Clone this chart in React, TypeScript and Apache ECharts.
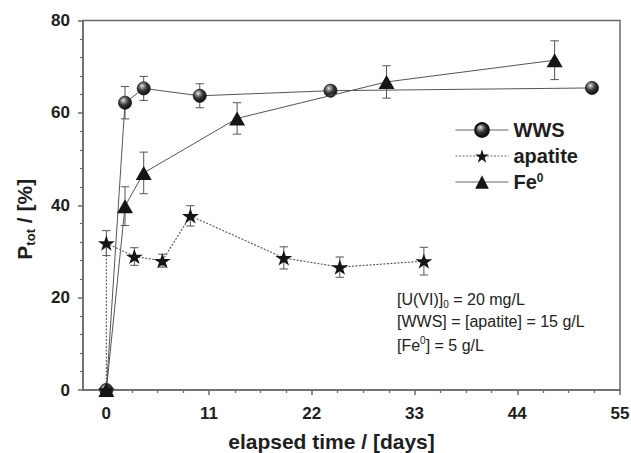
import React, { useEffect, useRef } from 'react';
import * as echarts from 'echarts';

// ---- data ----
const xTickValues = [0, 11, 22, 33, 44, 55];
const xMinorTickValues = [2.75, 5.5, 8.25, 13.75, 16.5, 19.25, 24.75, 27.5, 30.25, 35.75, 38.5, 41.25, 46.75, 49.5, 52.25];

const wwsDays = [0, 2, 4, 10, 24, 52];
const wwsValues = [0, 62.2, 65.3, 63.7, 64.8, 65.4];
const wwsErrors = [0, 3.5, 2.6, 2.6, 0, 0];

const apatiteDays = [0, 0, 3, 6, 9, 19, 25, 34];
const apatiteValues = [0, 31.8, 28.9, 28.0, 37.7, 28.6, 26.6, 27.9];
const apatiteErrors = [0, 2.7, 1.9, 1.4, 2.2, 2.4, 2.2, 3.0];

const feDays = [0, 2, 4, 14, 30, 48];
const feValues = [0, 39.8, 47.0, 58.8, 66.7, 71.4];
const feErrors = [0, 4.2, 4.5, 3.4, 3.5, 4.2];

const annotationLines = [
  '{n|[U(VI)]}{sub|0}{n| = 20 mg/L}',
  '{n|[WWS] = [apatite] = 15 g/L}',
  '{n|[Fe}{sup|0}{n|] = 5 g/L}',
];

const FONT = '"Liberation Sans", Arial, Helvetica, sans-serif';
const STAR = 'path://M50,0 L61.8,35.1 L98.9,35.1 L68.9,56.9 L80.3,92.1 L50,70.4 L19.7,92.1 L31.1,56.9 L1.1,35.1 L38.2,35.1 Z';

const sphere = {
  type: 'radial',
  x: 0.38,
  y: 0.32,
  r: 0.72,
  colorStops: [
    { offset: 0, color: '#f4f4f4' },
    { offset: 0.15, color: '#a8a8a8' },
    { offset: 0.5, color: '#3a3a3a' },
    { offset: 1, color: '#0a0a0a' },
  ],
};

function pairs(days: number[], vals: number[]) {
  return days.map((d, i) => [d, vals[i]]);
}

function errSeries(days: number[], vals: number[], errs: number[]) {
  return {
    type: 'custom',
    silent: true,
    z: 1,
    clip: false,
    data: days.map((d, i) => [d, vals[i], errs[i]]).filter((r) => r[2] > 0),
    encode: { x: 0, y: 1 },
    renderItem: (params: any, api: any) => {
      const x = api.value(0);
      const y = api.value(1);
      const e = api.value(2);
      const top = api.coord([x, y + e]);
      const bot = api.coord([x, y - e]);
      const hw = 4.2;
      const style = { stroke: '#555', lineWidth: 1, fill: null };
      return {
        type: 'group',
        children: [
          { type: 'line', shape: { x1: top[0], y1: top[1], x2: bot[0], y2: bot[1] }, style },
          { type: 'line', shape: { x1: top[0] - hw, y1: top[1], x2: top[0] + hw, y2: top[1] }, style },
          { type: 'line', shape: { x1: bot[0] - hw, y1: bot[1], x2: bot[0] + hw, y2: bot[1] }, style },
        ],
      };
    },
  };
}

export default function App() {
  const ref = useRef<HTMLDivElement>(null);
  useEffect(() => {
    if (!ref.current) return;
    const chart = echarts.init(ref.current, null, { renderer: 'svg' });
    const axisColor = '#6a6a6a';
    const textColor = '#1e1e1e';
    chart.setOption({
      animation: false,
      backgroundColor: '#ffffff',
      textStyle: { fontFamily: FONT },
      grid: {
        left: 83,
        right: 11,
        top: 20.5,
        bottom: 63,
        containLabel: false,
        outerBoundsMode: 'none',
        show: true,
        borderColor: axisColor,
        borderWidth: 1.5,
        backgroundColor: 'transparent',
      },
      legend: {
        data: ['WWS', 'apatite', 'Fe0'],
        orient: 'vertical',
        left: 455,
        top: 120,
        padding: 0,
        itemWidth: 53,
        itemHeight: 17,
        itemGap: 6,
        selectedMode: false,
        lineStyle: { color: '#666', width: 1 },
        formatter: (name: string) => (name === 'Fe0' ? '{b|Fe}{sup|0}' : '{b|' + name + '}'),
        textStyle: {
          fontFamily: FONT,
          fontSize: 20,
          fontWeight: 'bold',
          color: textColor,
          lineHeight: 20,
          rich: {
            b: { fontFamily: FONT, fontSize: 20, fontWeight: 'bold', color: textColor, lineHeight: 20, verticalAlign: 'bottom' },
            sup: { fontFamily: FONT, fontSize: 12, fontWeight: 'bold', color: textColor, lineHeight: 12, verticalAlign: 'top' },
          },
        },
      },
      xAxis: [
        {
          type: 'value',
          min: -2.5,
          max: 55,
          name: 'elapsed time / [days]',
          nameLocation: 'middle',
          nameGap: 40,
          nameTextStyle: { fontFamily: FONT, fontSize: 21, fontWeight: 'bold', color: textColor, lineHeight: 22, padding: [0, 40, 0, 0] },
          axisLine: { show: true, onZero: false, lineStyle: { color: axisColor, width: 1.5 } },
          axisTick: { show: true, inside: false, length: 5, customValues: xTickValues, lineStyle: { color: axisColor, width: 1.5 } },
          axisLabel: { show: true, customValues: xTickValues, margin: 15, fontFamily: FONT, fontSize: 17, fontWeight: 'bold', color: textColor },
          splitLine: { show: false },
        },
        {
          type: 'value',
          min: -2.5,
          max: 55,
          position: 'bottom',
          axisLine: { show: false, onZero: false },
          axisTick: { show: true, inside: false, length: 3, customValues: xMinorTickValues, lineStyle: { color: axisColor, width: 1.2 } },
          axisLabel: { show: false },
          splitLine: { show: false },
        },
      ],
      yAxis: {
        type: 'value',
        min: 0,
        max: 80,
        interval: 20,
        name: '{p|P}{sub|tot}{p| / [%]}',
        nameLocation: 'middle',
        nameRotate: 90,
        nameGap: 46,
        nameTextStyle: {
          fontFamily: FONT,
          fontSize: 21,
          fontWeight: 'bold',
          color: textColor,
          padding: [0, 28, 0, 0],
          rich: {
            p: { fontFamily: FONT, fontSize: 21, fontWeight: 'bold', color: textColor, lineHeight: 26, verticalAlign: 'middle' },
            sub: { fontFamily: FONT, fontSize: 13, fontWeight: 'bold', color: textColor, lineHeight: 13, verticalAlign: 'bottom' },
          },
        },
        axisLine: { show: true, onZero: false, lineStyle: { color: axisColor, width: 1.5 } },
        axisTick: { show: true, inside: false, length: 5, lineStyle: { color: axisColor, width: 1.5 } },
        minorTick: { show: true, splitNumber: 5, length: 3, lineStyle: { color: axisColor, width: 1.2 } },
        axisLabel: { margin: 13, fontFamily: FONT, fontSize: 17, fontWeight: 'bold', color: textColor },
        splitLine: { show: false },
        minorSplitLine: { show: false },
      },
      graphic: annotationLines.map((t, i) => ({
        type: 'text',
        left: 397,
        top: 291 + i * 22,
        z: 10,
        style: {
          text: t,
          fill: '#222',
          rich: {
            n: { fontFamily: FONT, fontSize: 16, color: '#222', lineHeight: 20, verticalAlign: 'middle' },
            sub: { fontFamily: FONT, fontSize: 10, color: '#222', lineHeight: 10, verticalAlign: 'bottom' },
            sup: { fontFamily: FONT, fontSize: 10, color: '#222', lineHeight: 10, verticalAlign: 'top' },
          },
        },
      })),
      series: [
        errSeries(wwsDays, wwsValues, wwsErrors),
        errSeries(apatiteDays, apatiteValues, apatiteErrors),
        errSeries(feDays, feValues, feErrors),
        {
          name: 'WWS',
          type: 'line',
          z: 3,
          data: pairs(wwsDays, wwsValues),
          symbol: 'circle',
          symbolSize: 13,
          lineStyle: { color: '#555', width: 1 },
          itemStyle: { color: sphere, borderColor: '#111', borderWidth: 0.8 },
        },
        {
          name: 'apatite',
          type: 'line',
          z: 3,
          data: pairs(apatiteDays, apatiteValues),
          symbol: STAR,
          symbolSize: [17, 16],
          symbolKeepAspect: true,
          lineStyle: { color: '#555', width: 1.1, type: [2, 1.5] },
          itemStyle: { color: '#151515' },
        },
        {
          name: 'Fe0',
          type: 'line',
          z: 4,
          data: pairs(feDays, feValues),
          symbol: 'triangle',
          symbolSize: [16, 14],
          lineStyle: { color: '#555', width: 1 },
          itemStyle: { color: '#151515' },
        },
      ],
    });
    return () => chart.dispose();
  }, []);
  return <div ref={ref} style={{ position: 'fixed', left: 0, top: 0, width: 631, height: 453, background: '#fff' }} />;
}
